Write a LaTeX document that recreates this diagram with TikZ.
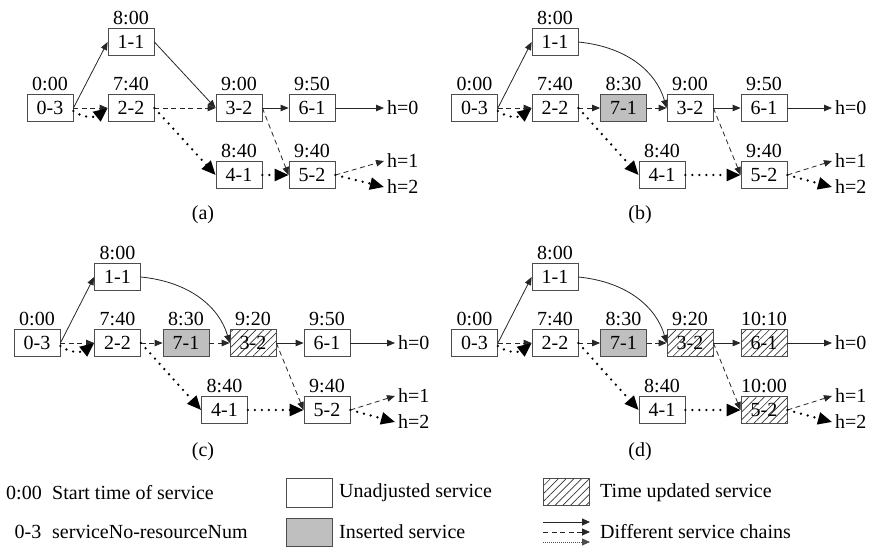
\documentclass[tikz,border=0pt]{standalone}
\usepackage{fontspec}
\setmainfont{Liberation Serif}
\usetikzlibrary{arrows.meta,patterns.meta}
\definecolor{boxline}{gray}{0.3}
\definecolor{insgray}{gray}{0.75}
\definecolor{hatchcol}{gray}{0.2}
\newcommand\fsz{\fontsize{20}{22}\selectfont}
\tikzset{
 box/.style={draw=boxline, line width=0.8pt, minimum width=46pt, minimum height=27pt, inner sep=0pt},
 inserted/.style={fill=insgray},
 updated/.style={pattern={Lines[angle=45,distance=5.5pt,line width=0.7pt]}, pattern color=hatchcol},
 plain/.style={},
 tlab/.style={inner sep=0pt, anchor=base},
 hlab/.style={inner sep=3pt, anchor=west},
 caplab/.style={inner sep=0pt},
 leglab/.style={inner sep=0pt, anchor=west},
 solidarr/.style={draw=black!85, line width=0.8pt, -{Triangle[length=8pt,width=6.5pt]}},
 dasharr/.style={solidarr, dash pattern=on 5pt off 3.5pt},
 dotarr/.style={draw=black, line width=2.6pt, dash pattern=on 0pt off 7pt, line cap=round, -{Triangle[length=14pt,width=12pt]}},
 legdot/.style={draw=black!70, line width=0.8pt, dash pattern=on 0.8pt off 1.2pt, -{Triangle[length=8pt,width=7pt]}},
}
% #1 name, #2 x, #3 y, #4 text, #5 time, #6 style
\newcommand\svc[6]{%
 \node[box,#6] (#1) at (#2,#3) {#4};
 \node[tlab] (#1t) at ([yshift=4pt]#1.north) {#5};}
\begin{document}
\begin{tikzpicture}[x=1pt,y=-1pt,font=\fsz]
\useasboundingbox (0,0) rectangle (871,547);

% ---------------- panel (a)
\svc{a03}{50}{108}{0-3}{0:00}{plain}
\svc{a11}{131}{42}{1-1}{8:00}{plain}
\svc{a22}{131}{108}{2-2}{7:40}{plain}
\svc{a32}{239}{108}{3-2}{9:00}{plain}
\svc{a61}{312}{108}{6-1}{9:50}{plain}
\svc{a41}{239}{175}{4-1}{8:40}{plain}
\svc{a52}{312}{175}{5-2}{9:40}{plain}
\node[hlab] (ah0) at (384,108) {h=0};
\node[hlab] (ah1) at (384,161) {h=1};
\node[hlab] (ah2) at (384,187) {h=2};
\draw[solidarr] (a03.east) -- (a11.west);
\draw[dasharr] (a03.east) -- (a22.west);
\draw[dotarr] ([yshift=-3pt]a03.east) .. controls +(12,9) and +(-10,8) .. (a22.west);
\draw[solidarr] (a11.east) -- (a32.west);
\draw[dasharr] (a22.east) -- (a32.west);
\draw[dotarr] (a22.east) -- (a41.west);
\draw[solidarr] (a32.east) -- (a61.west);
\draw[solidarr] (a61.east) -- (ah0.west);
\draw[dasharr] (a32.east) -- (a52.west);
\draw[dotarr] (a41.east) -- (a52.west);
\draw[dasharr] (a52.east) -- (ah1.west);
\draw[dotarr] (a52.east) -- (ah2.west);
\node[caplab] (capa) at (203,215) {(a)};

% ---------------- panel (b)
\svc{b03}{474.5}{108}{0-3}{0:00}{plain}
\svc{b11}{555}{42}{1-1}{8:00}{plain}
\svc{b22}{555}{108}{2-2}{7:40}{plain}
\svc{b71}{623.5}{108}{7-1}{8:30}{inserted}
\svc{b32}{690}{108}{3-2}{9:00}{plain}
\svc{b61}{764}{108}{6-1}{9:50}{plain}
\svc{b41}{662}{175}{4-1}{8:40}{plain}
\svc{b52}{764}{175}{5-2}{9:40}{plain}
\node[hlab] (bh0) at (832,108) {h=0};
\node[hlab] (bh1) at (832,161) {h=1};
\node[hlab] (bh2) at (832,187) {h=2};
\draw[solidarr] (b03.east) -- (b11.west);
\draw[dasharr] (b03.east) -- (b22.west);
\draw[dotarr] ([yshift=-3pt]b03.east) .. controls +(12,9) and +(-10,8) .. (b22.west);
\draw[solidarr] (b11.east) .. controls +(50,5) and +(-10,-35) .. (b32.west);
\draw[dasharr] (b22.east) -- (b71.west);
\draw[dasharr] (b71.east) -- (b32.west);
\draw[dotarr] (b22.east) -- (b41.west);
\draw[solidarr] (b32.east) -- (b61.west);
\draw[solidarr] (b61.east) -- (bh0.west);
\draw[dasharr] (b32.east) -- (b52.west);
\draw[dotarr] (b41.east) -- (b52.west);
\draw[dasharr] (b52.east) -- (bh1.west);
\draw[dotarr] (b52.east) -- (bh2.west);
\node[caplab] (capb) at (640,215) {(b)};

% ---------------- panel (c)
\svc{c03}{37}{343}{0-3}{0:00}{plain}
\svc{c11}{117.5}{277}{1-1}{8:00}{plain}
\svc{c22}{117.5}{343}{2-2}{7:40}{plain}
\svc{c71}{186}{343}{7-1}{8:30}{inserted}
\svc{c32}{253}{343}{3-2}{9:20}{updated}
\svc{c61}{327}{343}{6-1}{9:50}{plain}
\svc{c41}{224.5}{410}{4-1}{8:40}{plain}
\svc{c52}{327}{410}{5-2}{9:40}{plain}
\node[hlab] (ch0) at (395,343) {h=0};
\node[hlab] (ch1) at (395,396) {h=1};
\node[hlab] (ch2) at (395,422) {h=2};
\draw[solidarr] (c03.east) -- (c11.west);
\draw[dasharr] (c03.east) -- (c22.west);
\draw[dotarr] ([yshift=-3pt]c03.east) .. controls +(12,9) and +(-10,8) .. (c22.west);
\draw[solidarr] (c11.east) .. controls +(50,5) and +(-10,-35) .. (c32.west);
\draw[dasharr] (c22.east) -- (c71.west);
\draw[dasharr] (c71.east) -- (c32.west);
\draw[dotarr] (c22.east) -- (c41.west);
\draw[solidarr] (c32.east) -- (c61.west);
\draw[solidarr] (c61.east) -- (ch0.west);
\draw[dasharr] (c32.east) -- (c52.west);
\draw[dotarr] (c41.east) -- (c52.west);
\draw[dasharr] (c52.east) -- (ch1.west);
\draw[dotarr] (c52.east) -- (ch2.west);
\node[caplab] (capc) at (203,452) {(c)};

% ---------------- panel (d)
\svc{d03}{474.5}{343}{0-3}{0:00}{plain}
\svc{d11}{555}{277}{1-1}{8:00}{plain}
\svc{d22}{555}{343}{2-2}{7:40}{plain}
\svc{d71}{623.5}{343}{7-1}{8:30}{inserted}
\svc{d32}{690}{343}{3-2}{9:20}{updated}
\svc{d61}{764}{343}{6-1}{10:10}{updated}
\svc{d41}{662}{410}{4-1}{8:40}{plain}
\svc{d52}{764}{410}{5-2}{10:00}{updated}
\node[hlab] (dh0) at (832,343) {h=0};
\node[hlab] (dh1) at (832,396) {h=1};
\node[hlab] (dh2) at (832,422) {h=2};
\draw[solidarr] (d03.east) -- (d11.west);
\draw[dasharr] (d03.east) -- (d22.west);
\draw[dotarr] ([yshift=-3pt]d03.east) .. controls +(12,9) and +(-10,8) .. (d22.west);
\draw[solidarr] (d11.east) .. controls +(50,5) and +(-10,-35) .. (d32.west);
\draw[dasharr] (d22.east) -- (d71.west);
\draw[dasharr] (d71.east) -- (d32.west);
\draw[dotarr] (d22.east) -- (d41.west);
\draw[solidarr] (d32.east) -- (d61.west);
\draw[solidarr] (d61.east) -- (dh0.west);
\draw[dasharr] (d32.east) -- (d52.west);
\draw[dotarr] (d41.east) -- (d52.west);
\draw[dasharr] (d52.east) -- (dh1.west);
\draw[dotarr] (d52.east) -- (dh2.west);
\node[caplab] (capd) at (640,452) {(d)};

% ---------------- legend
\node[inner sep=0pt] (k1) at (24,493) {0:00};
\node[leglab] (t1) at (52,493) {Start time of service};
\node[inner sep=0pt] (k2) at (28,532) {0-3};
\node[leglab] (t2) at (52,532) {serviceNo-resourceNum};
\node[box, minimum height=29pt] (lb1) at (309,492.5) {};
\node[leglab] (t3) at (339,492.5) {Unadjusted service};
\node[box, inserted, minimum height=28pt] (lb2) at (309,532) {};
\node[leglab] (t4) at (339,532) {Inserted service};
\node[box, updated] (lb3) at (566,491.5) {};
\node[leglab] (t5) at (600,492.5) {Time updated service};
\node[leglab] (t6) at (600,532) {Different service chains};
\coordinate (ls1) at (543,522);
\coordinate (le1) at (590,522);
\coordinate (ls2) at (543,532);
\coordinate (le2) at (590,532);
\coordinate (ls3) at (543,542);
\coordinate (le3) at (590,542);
\draw[solidarr, -{Triangle[length=8pt,width=7pt]}] (ls1) -- (le1);
\draw[dasharr, -{Triangle[length=8pt,width=7pt]}] (ls2) -- (le2);
\draw[legdot] (ls3) -- (le3);
\end{tikzpicture}
\end{document}
